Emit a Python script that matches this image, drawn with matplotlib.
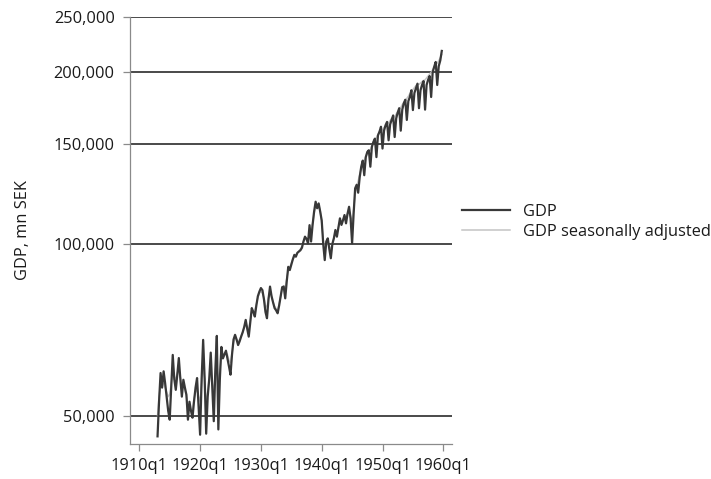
import matplotlib
matplotlib.use("Agg")
import matplotlib.pyplot as plt
from matplotlib.ticker import FixedLocator, FuncFormatter, NullLocator
import numpy as np

# quarterly GDP, thousand mn SEK, one row per year (q1..q4), 1913-1959
first_year = 1913
gdp = [
    [46.0, 53.0, 59.4, 56.0],    # 1913
    [59.8, 57.0, 54.0, 51.0],
    [49.2, 56.0, 63.9, 58.0],
    [55.5, 59.0, 63.1, 58.0],
    [54.0, 57.8, 56.0, 54.4],
    [49.2, 52.9, 51.0, 49.6],
    [53.0, 56.0, 58.2, 52.0],
    [46.3, 58.0, 67.9, 58.0],
    [46.5, 54.0, 58.0, 64.5],
    [56.0, 48.9, 60.0, 69.0],
    [47.3, 58.0, 66.0, 63.0],    # 1923
    [64.0, 65.0, 63.0, 61.0],
    [59.0, 64.0, 68.0, 69.3],
    [68.0, 66.5, 67.5, 68.8],
    [70.0, 71.5, 73.6, 71.0],
    [68.8, 73.0, 77.2, 76.0],
    [74.6, 78.0, 81.0, 82.5],
    [83.7, 83.0, 80.0, 76.0],
    [74.1, 80.0, 84.2, 81.0],
    [79.0, 77.2, 76.5, 75.6],
    [78.0, 81.0, 84.0, 84.2],    # 1933
    [80.3, 86.0, 91.2, 90.0],
    [92.0, 94.0, 95.7, 95.0],
    [96.5, 97.0, 97.5, 98.5],
    [101.0, 103.0, 102.0, 100.3],
    [107.9, 101.0, 108.0, 114.0],
    [118.6, 115.5, 117.8, 114.0],
    [110.0, 100.0, 93.7, 101.0],
    [102.3, 98.0, 94.4, 100.0],
    [102.3, 105.8, 103.0, 107.0],
    [110.9, 108.0, 110.0, 112.4],  # 1943
    [108.7, 113.0, 116.2, 110.9],
    [100.3, 113.0, 125.2, 127.0],
    [123.0, 131.0, 136.6, 140.0],
    [132.0, 142.0, 145.0, 146.0],
    [136.6, 148.0, 151.0, 153.0],
    [142.0, 155.0, 157.3, 160.5],
    [147.0, 158.0, 161.5, 163.7],
    [152.0, 162.0, 164.9, 168.0],
    [154.0, 166.0, 170.0, 173.0],
    [158.0, 172.0, 176.5, 179.0],  # 1953
    [165.0, 178.0, 181.0, 186.0],
    [171.7, 184.0, 187.5, 191.0],
    [173.0, 186.0, 190.0, 193.0],
    [172.0, 190.0, 194.0, 197.0],
    [181.0, 200.0, 204.5, 208.5],
    [190.0, 205.0, 209.7, 218.0],  # 1959
]

# seasonally adjusted series, same layout
gdp_sa = [
    [50.0, 54.0, 56.5, 57.0],
    [57.0, 56.0, 55.0, 54.0],
    [54.5, 57.0, 59.5, 58.5],
    [58.0, 59.5, 60.0, 58.5],
    [56.5, 56.5, 55.5, 54.0],
    [51.5, 51.5, 51.0, 51.0],
    [53.5, 55.0, 55.5, 54.0],
    [53.0, 57.0, 61.0, 58.0],
    [52.0, 55.0, 58.0, 60.0],
    [57.0, 55.0, 59.0, 62.0],
    [57.0, 60.0, 63.5, 64.0],
    [64.0, 64.5, 64.0, 62.5],
    [62.0, 64.5, 67.0, 68.5],
    [68.0, 67.5, 68.0, 69.0],
    [70.0, 71.5, 72.5, 71.5],
    [71.0, 73.5, 76.0, 76.0],
    [76.5, 78.5, 80.5, 82.0],
    [82.5, 82.0, 80.5, 78.0],
    [77.5, 80.5, 82.5, 81.0],
    [79.0, 77.8, 77.0, 76.5],
    [78.5, 81.0, 83.5, 84.5],
    [84.0, 87.0, 90.0, 91.0],
    [92.5, 94.0, 95.0, 95.8],
    [96.5, 97.2, 98.0, 99.0],
    [101.0, 102.5, 102.5, 102.0],
    [105.0, 104.5, 108.5, 113.0],
    [116.5, 116.5, 117.0, 114.5],
    [109.0, 102.0, 97.0, 99.5],
    [100.5, 99.0, 98.0, 100.0],
    [102.5, 104.5, 104.5, 107.0],
    [109.5, 109.5, 110.5, 111.5],
    [111.5, 113.0, 114.0, 112.0],
    [109.0, 115.0, 122.0, 126.0],
    [129.0, 132.5, 135.5, 138.0],
    [140.0, 142.5, 144.0, 145.5],
    [146.0, 148.5, 150.5, 152.5],
    [153.5, 155.5, 157.5, 159.0],
    [158.5, 160.0, 161.0, 162.5],
    [163.0, 164.5, 166.0, 167.0],
    [167.0, 169.0, 170.5, 172.0],
    [173.5, 175.5, 177.0, 178.5],
    [180.0, 181.5, 183.5, 185.0],
    [186.5, 188.0, 189.5, 190.5],
    [190.5, 191.5, 192.5, 193.5],
    [194.0, 195.5, 197.0, 198.5],
    [200.0, 202.0, 204.0, 206.0],
    [207.5, 209.5, 212.0, 215.0],
]

y_ticks = [50000, 100000, 150000, 200000, 250000]
x_ticks = [1910, 1920, 1930, 1940, 1950, 1960]
x_tick_labels = ["1910q1", "1920q1", "1930q1", "1940q1", "1950q1", "1960q1"]

plt.rcParams["font.family"] = ["Open Sans", "DejaVu Sans"]

gdp_vals = np.array(gdp).ravel() * 1000
sa_vals = np.array(gdp_sa).ravel() * 1000
t = first_year + np.arange(len(gdp_vals)) / 4.0

fig = plt.figure(figsize=(7.11, 4.79), dpi=100)
ax = fig.add_axes([130 / 711, 1 - 444 / 479, 322 / 711, 427 / 479])

ax.plot(t, sa_vals, color="#c4c4c4", lw=1.1, label="GDP seasonally adjusted", zorder=3)
ax.plot(t, gdp_vals, color="#383838", lw=1.6, label="GDP", zorder=4)

ax.set_yscale("log")
ax.set_ylim(44600, 250000)
ax.set_xlim(1908.47, 1961.43)

ax.yaxis.set_major_locator(FixedLocator(y_ticks))
ax.yaxis.set_minor_locator(NullLocator())
ax.yaxis.set_major_formatter(FuncFormatter(lambda v, p: f"{v:,.0f}"))
ax.set_xticks(x_ticks)
ax.set_xticklabels(x_tick_labels)

ax.yaxis.grid(True, color="#4a4a4a", lw=1.4)
ax.set_axisbelow(True)

for side in ["top", "right"]:
    ax.spines[side].set_visible(False)
for side in ["left", "bottom"]:
    ax.spines[side].set_color("#8a8a8a")
    ax.spines[side].set_linewidth(0.9)

ax.tick_params(axis="both", colors="#8a8a8a", length=5, width=0.9,
               labelsize=11.8, labelcolor="#1a1a1a")
ax.tick_params(axis="y", pad=6)
ax.tick_params(axis="x", pad=5)

ax.set_ylabel("GDP, mn SEK", fontsize=11.8, color="#1a1a1a", labelpad=16)

handles, labels = ax.get_legend_handles_labels()
fig.legend(handles[::-1], labels[::-1], loc="upper left",
           bbox_to_anchor=(462 / 711, 1 - 204 / 479), frameon=False,
           fontsize=11.8, handlelength=2.9, handletextpad=0.8,
           borderpad=0, borderaxespad=0, labelspacing=0.22,
           labelcolor="#1a1a1a")

fig.savefig("out.png", dpi=100)
